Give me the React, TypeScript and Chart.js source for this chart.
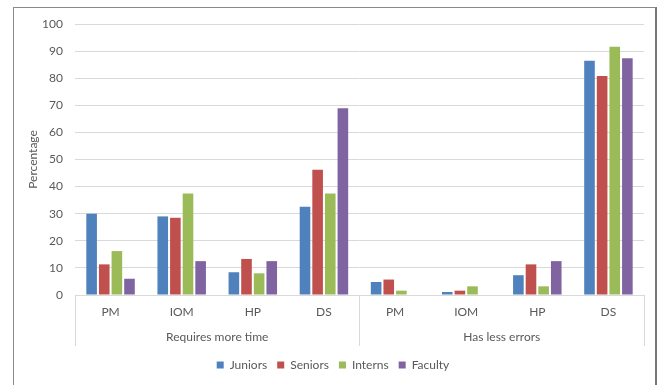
import React, { useEffect, useRef } from "react";
import { Chart, registerables } from "chart.js";

Chart.register(...registerables);

const subCategories = ["PM", "IOM", "HP", "DS", "PM", "IOM", "HP", "DS"];
const groupLabels = ["Requires more time", "Has less errors"];
const seriesNames = ["Juniors", "Seniors", "Interns", "Faculty"];
const juniors = [30, 29, 8.4, 32.6, 4.8, 1.1, 7.3, 86.4];
const seniors = [11.3, 28.5, 13.3, 46.2, 5.7, 1.6, 11.3, 80.8];
const interns = [16.2, 37.5, 8.0, 37.5, 1.6, 3.2, 3.2, 91.6];
const faculty = [6.0, 12.5, 12.5, 68.9, 0, 0, 12.5, 87.4];
const yTicksMax = 100;
const yTickStep = 10;

const colors = ["#4F81BD", "#C0504D", "#9BBB59", "#8064A2"];
const FONT = "Lato";
const TEXT = "#595959";
const GRID = "#D9D9D9";

export default function App() {
  const ref = useRef<HTMLCanvasElement | null>(null);
  useEffect(() => {
    if (!ref.current) return;
    const values = [juniors, seniors, interns, faculty];
    const chart = new Chart(ref.current, {
      type: "bar",
      data: {
        labels: subCategories,
        datasets: seriesNames.map((name, i) => ({
          label: name,
          data: values[i],
          backgroundColor: colors[i],
          borderWidth: 0,
          categoryPercentage: 0.71,
          barPercentage: 0.84,
        })),
      },
      options: {
        animation: false,
        responsive: false,
        maintainAspectRatio: false,
        layout: { padding: { left: 8, right: 13, top: 16, bottom: 4 } },
        plugins: {
          legend: {
            position: "bottom",
            labels: {
              boxWidth: 7,
              boxHeight: 7,
              padding: 10,
              color: TEXT,
              font: { family: FONT, size: 12 },
            },
          },
          tooltip: { enabled: false },
        },
        scales: {
          x: {
            type: "category",
            position: "bottom",
            offset: true,
            grid: {
              display: true,
              drawOnChartArea: false,
              offset: true,
              tickLength: 51,
              tickColor: (ctx: any) =>
                ctx.index === undefined || ctx.index % 4 === 0 ? GRID : "rgba(0,0,0,0)",
            },
            border: { display: true, color: GRID },
            ticks: {
              padding: -41,
              color: TEXT,
              font: { family: FONT, size: 12 },
              maxRotation: 0,
              autoSkip: false,
            },
            afterFit: (scale: any) => {
              scale.height = 24;
            },
          },
          x2: {
            type: "category",
            position: "bottom",
            labels: groupLabels,
            offset: true,
            grid: { display: false, drawTicks: false },
            border: { display: false },
            ticks: {
              padding: 11,
              color: TEXT,
              font: { family: FONT, size: 12 },
              maxRotation: 0,
              autoSkip: false,
            },
            afterFit: (scale: any) => {
              scale.height = 30;
            },
          },
          y: {
            min: 0,
            max: yTicksMax,
            ticks: {
              stepSize: yTickStep,
              padding: 12,
              color: TEXT,
              font: { family: FONT, size: 12 },
            },
            grid: { color: GRID, drawTicks: false },
            border: { display: false },
            title: {
              display: true,
              text: "Percentage",
              color: TEXT,
              font: { family: FONT, size: 12 },
              padding: { top: 4, bottom: 4 },
            },
            afterFit: (scale: any) => {
              scale.width = 53;
              scale.paddingTop = 0;
              scale.paddingBottom = 0;
            },
          },
        },
      },
    });
    return () => chart.destroy();
  }, []);
  return (
    <div
      style={{
        position: "absolute",
        left: 13,
        top: 7,
        width: 644,
        height: 390,
        borderLeft: "1px solid #8a8a8a",
        borderTop: "1px solid #8a8a8a",
        borderRight: "2px solid #777",
        boxSizing: "border-box",
        background: "#fff",
      }}
    >
      <canvas ref={ref} width={643} height={377} style={{ display: "block" }} />
    </div>
  );
}
